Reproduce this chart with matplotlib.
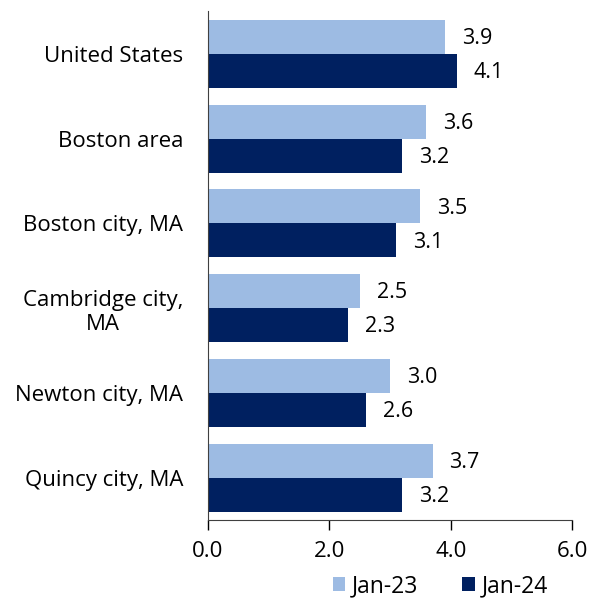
import matplotlib.pyplot as plt
import numpy as np

categories = ["United States", "Boston area", "Boston city, MA",
              "Cambridge city,\nMA", "Newton city, MA", "Quincy city, MA"]
jan23 = [3.9, 3.6, 3.5, 2.5, 3.0, 3.7]
jan24 = [4.1, 3.2, 3.1, 2.3, 2.6, 3.2]

plt.rcParams['font.family'] = ['Open Sans', 'DejaVu Sans']

fig = plt.figure(figsize=(5.91, 6.02), dpi=100)
ax = fig.add_axes([0.352, 0.136, 0.616, 0.845])

y = np.arange(len(categories))
h = 0.4
b1 = ax.barh(y - h / 2, jan23, height=h, color='#9dbbe3', label='Jan-23')
b2 = ax.barh(y + h / 2, jan24, height=h, color='#002060', label='Jan-24')

for bars, vals in ((b1, jan23), (b2, jan24)):
    for bar, v in zip(bars, vals):
        ax.text(v + 0.28, bar.get_y() + bar.get_height() / 2 + 0.02, f"{v:.1f}",
                va='center', ha='left', fontsize=15.5)

ax.set_ylim(len(categories) - 0.5, -0.5)
ax.set_xlim(0, 6)
ax.set_xticks([0, 2, 4, 6])
ax.set_xticklabels(["0.0", "2.0", "4.0", "6.0"], fontsize=16)
ax.set_yticks(y)
ax.set_yticklabels(categories, fontsize=16, ha='right', multialignment='center')
ax.tick_params(axis='y', length=0, pad=18)
ax.tick_params(axis='x', length=7, width=1, direction='out', pad=8)
ax.spines['top'].set_visible(False)
ax.spines['right'].set_visible(False)
ax.spines['left'].set_color('#404040')
ax.spines['bottom'].set_color('#404040')

fig.legend(handles=[b1, b2], loc='center', bbox_to_anchor=(0.745, 0.026),
           ncol=2, frameon=False, fontsize=16.5, handlelength=0.55, handleheight=0.55,
           columnspacing=1.9, handletextpad=0.3, borderpad=0)

plt.savefig('out.png')
